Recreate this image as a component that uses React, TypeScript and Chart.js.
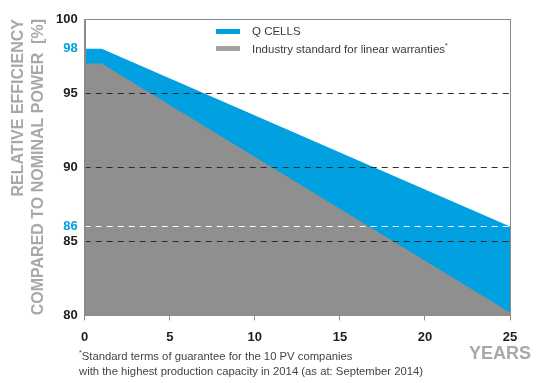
import React, { useEffect, useRef } from "react";
import { Chart, registerables } from "chart.js";

Chart.register(...registerables);

const years = [0, 1, 25];
const qCells = [98, 98, 86];
const industry = [97, 97, 80.2];
const yTicks = [80, 85, 86, 90, 95, 98, 100];
const xTicks = [0, 5, 10, 15, 20, 25];
const blueTicks = [86, 98];
const darkDashed = [95, 90, 85];
const whiteDashed = [86];

const BLUE = "#00a0e1";
const GRAY = "#8f8f8f";
const FONT = "'Liberation Sans', Arial, sans-serif";

const boxAndDashes = {
  id: "boxAndDashes",
  afterDatasetsDraw(chart: any) {
    const { ctx, chartArea } = chart;
    const y = chart.scales.y;
    ctx.save();
    ctx.lineWidth = 1;
    ctx.setLineDash([6, 5]);
    const draw = (v: number, color: string) => {
      const py = Math.round(y.getPixelForValue(v)) + 0.5;
      ctx.strokeStyle = color;
      ctx.beginPath();
      ctx.moveTo(chartArea.left, py);
      ctx.lineTo(chartArea.right, py);
      ctx.stroke();
    };
    darkDashed.forEach((v) => draw(v, "#2b2b2b"));
    whiteDashed.forEach((v) => draw(v, "#ffffff"));
    ctx.setLineDash([]);
    ctx.strokeStyle = "#8a8a8a";
    ctx.strokeRect(
      Math.round(chartArea.left) + 0.5,
      Math.round(chartArea.top) + 0.5,
      Math.round(chartArea.right - chartArea.left),
      Math.round(chartArea.bottom - chartArea.top)
    );
    ctx.restore();
  },
};

export default function App() {
  const ref = useRef<HTMLCanvasElement>(null);
  useEffect(() => {
    const chart = new Chart(ref.current!, {
      type: "line",
      data: {
        datasets: [
          {
            label: "Q CELLS",
            data: years.map((x, i) => ({ x, y: qCells[i] })),
            backgroundColor: BLUE,
            borderColor: BLUE,
            borderWidth: 0,
            pointRadius: 0,
            fill: "start",
            order: 1,
          },
          {
            label: "Industry standard for linear warranties*",
            data: years.map((x, i) => ({ x, y: industry[i] })),
            backgroundColor: GRAY,
            borderColor: GRAY,
            borderWidth: 0,
            pointRadius: 0,
            fill: "start",
            order: 0,
          },
        ],
      },
      options: {
        animation: false,
        responsive: false,
        layout: { padding: { left: 9, top: 19, right: 33, bottom: 29 } },
        plugins: { legend: { display: false }, tooltip: { enabled: false } },
        scales: {
          x: {
            type: "linear",
            min: 0,
            max: 25,
            afterBuildTicks: (s: any) => {
              s.ticks = xTicks.map((v) => ({ value: v }));
            },
            grid: {
              display: true,
              drawOnChartArea: false,
              drawTicks: true,
              tickLength: 5,
              color: "#8a8a8a",
            },
            border: { display: true, color: "#8a8a8a" },
            ticks: {
              color: "#1e1e1e",
              font: { family: FONT, size: 13, weight: "bold" },
              padding: 9,
              maxRotation: 0,
            },
          },
          y: {
            min: 80,
            max: 100,
            afterBuildTicks: (s: any) => {
              s.ticks = yTicks.map((v) => ({ value: v }));
            },
            grid: { display: false, drawTicks: false },
            border: { display: true, color: "#8a8a8a" },
            ticks: {
              color: (c: any) => (blueTicks.includes(c.tick.value) ? BLUE : "#1e1e1e"),
              font: { family: FONT, size: 13, weight: "bold" },
              padding: 7,
            },
            title: {
              display: true,
              text: ["RELATIVE EFFICIENCY", "COMPARED TO NOMINAL POWER  [%]"],
              color: "#a8a8a8",
              align: "end",
              font: { family: FONT, size: 16, weight: "bold", lineHeight: 1.25 },
              padding: { top: 0, bottom: 0 },
            },
          },
        },
      },
      plugins: [boxAndDashes],
    } as any);
    return () => chart.destroy();
  }, []);

  const legendItem = (color: string, text: React.ReactNode, top: number) => (
    <div style={{ position: "absolute", left: 216, top, display: "flex", alignItems: "center" }}>
      <div style={{ width: 24, height: 5, background: color, marginRight: 12 }} />
      <span style={{ fontFamily: FONT, fontSize: 11.5, color: "#3a3a3a", whiteSpace: "nowrap" }}>{text}</span>
    </div>
  );

  return (
    <div style={{ position: "fixed", left: 0, top: 0, width: 543, height: 383, background: "#fff" }}>
      <canvas ref={ref} width={543} height={383} style={{ position: "absolute", left: 0, top: 0 }} />
      {legendItem(BLUE, "Q CELLS", 25)}
      {legendItem(
        "#a3a3a3",
        <>
          Industry standard for linear warranties<sup style={{ fontSize: 7 }}>*</sup>
        </>,
        42
      )}
      <div
        style={{
          position: "absolute",
          left: 79,
          top: 345,
          fontFamily: FONT,
          fontSize: 11.3,
          lineHeight: "15px",
          color: "#444",
          whiteSpace: "nowrap",
        }}
      >
        <sup style={{ fontSize: 7 }}>*</sup>Standard terms of guarantee for the 10 PV companies
        <br />
        with the highest production capacity in 2014 (as at: September 2014)
      </div>
      <div
        style={{
          position: "absolute",
          left: 469,
          top: 343,
          fontFamily: FONT,
          fontSize: 18,
          fontWeight: "bold",
          color: "#a8a8a8",
        }}
      >
        YEARS
      </div>
    </div>
  );
}
